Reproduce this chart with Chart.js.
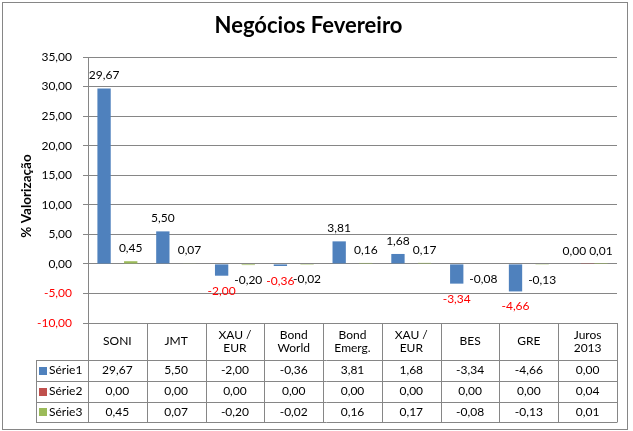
<!DOCTYPE html>
<html><head><meta charset="utf-8">
<script src="https://cdn.jsdelivr.net/npm/chart.js@4/dist/chart.umd.min.js"></script>
<style>html,body{margin:0;padding:0;background:#fff;}#wrap{position:relative;width:633px;height:431px;}</style>
</head><body><div id="wrap"><canvas id="c" width="633" height="431"></canvas></div>
<script>
const categories = [["SONI"],["JMT"],["XAU /","EUR"],["Bond","World"],["Bond","Emerg."],["XAU /","EUR"],["BES"],["GRE"],["Juros","2013"]];
const seriesNames = ["Série1","Série2","Série3"];
const serie1 = [29.67, 5.50, -2.00, -0.36, 3.81, 1.68, -3.34, -4.66, 0.00];
const serie2 = [0.00, 0.00, 0.00, 0.00, 0.00, 0.00, 0.00, 0.00, 0.04];
const serie3 = [0.45, 0.07, -0.20, -0.02, 0.16, 0.17, -0.08, -0.13, 0.01];
const seriesColors = ["#4F81BD","#C0504D","#9BBB59"];
const yMin = -10, yMax = 35, yStep = 5;
const titleText = "Negócios Fevereiro";
const yTitle = "% Valorização";

const FONT = "Lato";
const GRID = "#868686";
const fmt = v => v.toFixed(2).replace('.', ',');

const allSeries = [serie1, serie2, serie3];

const tablePlugin = {
  id: 'tablePlugin',
  afterDraw(chart) {
    const ctx = chart.ctx;
    const ca = chart.chartArea;
    const n = categories.length;
    const colW = (ca.right - ca.left) / n;
    const rows = [ca.bottom, 360, 381, 402, 422];
    const legL = 36;
    ctx.save();
    ctx.strokeStyle = GRID;
    ctx.lineWidth = 1;
    // outer border
    ctx.strokeRect(2.5, 2.5, 625, 427);
    // horizontal table lines
    ctx.beginPath();
    ctx.moveTo(ca.left, Math.round(rows[0]) + 0.5); ctx.lineTo(ca.right, Math.round(rows[0]) + 0.5);
    for (let r = 1; r < rows.length; r++) {
      ctx.moveTo(legL, rows[r] + 0.5); ctx.lineTo(ca.right, rows[r] + 0.5);
    }
    // vertical lines
    for (let k = 0; k <= n; k++) {
      const x = Math.round(ca.left + k * colW) + 0.5;
      ctx.moveTo(x, k === 0 ? ca.top : rows[0]); ctx.lineTo(x, rows[4] + 0.5);
    }
    ctx.moveTo(legL + 0.5, rows[1]); ctx.lineTo(legL + 0.5, rows[4] + 0.5);
    ctx.stroke();

    ctx.fillStyle = "#000";
    ctx.textAlign = "center";
    ctx.textBaseline = "middle";
    ctx.font = "12px " + FONT;
    // header
    const hc = (rows[0] + rows[1]) / 2;
    for (let i = 0; i < n; i++) {
      const cx = ca.left + (i + 0.5) * colW;
      const lines = categories[i];
      if (lines.length === 1) ctx.fillText(lines[0], cx, hc);
      else { ctx.fillText(lines[0], cx, hc - 6.5); ctx.fillText(lines[1], cx, hc + 6.5); }
    }
    // values and legend
    for (let s = 0; s < 3; s++) {
      const rc = (rows[s + 1] + rows[s + 2]) / 2;
      for (let i = 0; i < n; i++) {
        const cx = ca.left + (i + 0.5) * colW;
        ctx.fillText(fmt(allSeries[s][i]), cx, rc);
      }
      ctx.fillStyle = seriesColors[s];
      ctx.fillRect(39, Math.round(rc) - 4, 8, 8);
      ctx.fillStyle = "#000";
      ctx.textAlign = "left";
      ctx.fillText(seriesNames[s], 49, rc);
      ctx.textAlign = "center";
    }
    // y axis title
    ctx.save();
    ctx.translate(27, 196);
    ctx.rotate(-Math.PI / 2);
    ctx.font = "bold 13.5px " + FONT;
    ctx.fillText(yTitle, 0, 0);
    ctx.restore();

    // data labels for Série1 and Série3
    ctx.font = "12px " + FONT;
    [0, 2].forEach(d => {
      const meta = chart.getDatasetMeta(d);
      meta.data.forEach((bar, i) => {
        const v = allSeries[d][i];
        ctx.fillStyle = (d === 0 && v < 0) ? "#FF0000" : "#000";
        const y = v >= 0 ? bar.y - 13 : bar.y + 15;
        ctx.fillText(fmt(v), bar.x, y);
      });
    });
    ctx.restore();
  }
};

new Chart(document.getElementById('c'), {
  type: 'bar',
  data: {
    labels: categories,
    datasets: seriesNames.map((name, s) => ({
      label: name,
      data: allSeries[s],
      backgroundColor: seriesColors[s],
      borderWidth: 0,
      categoryPercentage: 0.68,
      barPercentage: 1.0
    }))
  },
  options: {
    responsive: false,
    animation: false,
    layout: { padding: { left: 0, right: 16, top: 0, bottom: 108 } },
    plugins: {
      legend: { display: false },
      tooltip: { enabled: false },
      title: {
        display: true,
        text: titleText,
        color: "#000",
        font: { family: FONT, size: 22, weight: 'bold' },
        padding: { top: 13, bottom: 17.6 }
      }
    },
    scales: {
      x: { display: false },
      y: {
        min: yMin, max: yMax,
        afterFit(s) { s.width = 88; },
        ticks: {
          stepSize: yStep,
          padding: 11,
          font: { family: FONT, size: 12 },
          color: c => (c.tick && c.tick.value < 0) ? "#FF0000" : "#000",
          callback: v => fmt(v)
        },
        grid: { color: GRID, tickLength: 5, tickColor: GRID },
        border: { color: GRID }
      }
    }
  },
  plugins: [tablePlugin]
});
</script></body></html>
